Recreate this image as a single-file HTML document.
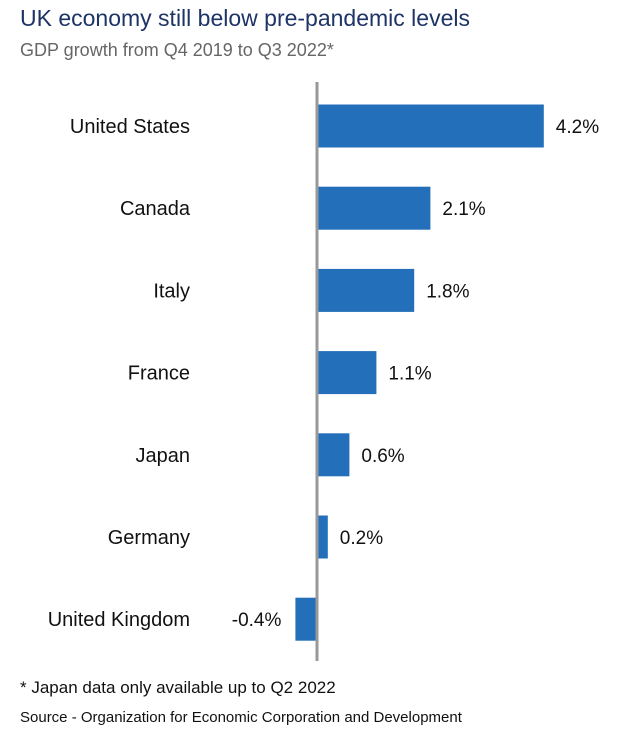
<!DOCTYPE html>
<html><head><meta charset="utf-8"><style>
body{margin:0;width:627px;height:755px;background:#fff;font-family:"Liberation Sans",sans-serif;position:relative;overflow:hidden}
.t{position:absolute;white-space:nowrap}
</style></head><body>
<div class="t" style="left:20px;top:5px;font-size:23px;color:#1e3466">UK economy still below pre-pandemic levels</div>
<div class="t" style="left:20px;top:40px;font-size:18px;color:#666">GDP growth from Q4 2019 to Q3 2022*</div>
<svg id="chart" width="627" height="680" style="position:absolute;left:0;top:0"></svg>
<div class="t" style="left:20px;top:678px;font-size:17px;color:#111">* Japan data only available up to Q2 2022</div>
<div class="t" style="left:20px;top:709px;font-size:15px;color:#111">Source - Organization for Economic Corporation and Development</div>
<script>
const categories=["United States","Canada","Italy","France","Japan","Germany","United Kingdom"];
const values=[4.2,2.1,1.8,1.1,0.6,0.2,-0.4];
const labels=["4.2%","2.1%","1.8%","1.1%","0.6%","0.2%","-0.4%"];
const svg=document.getElementById('chart');const NS='http://www.w3.org/2000/svg';
const x0=317,perUnit=54;const xs=v=>x0+v*perUnit;
const ys=i=>126+i*82.2;const bh=43;
function mk(t,a){const e=document.createElementNS(NS,t);for(const k in a)e.setAttribute(k,a[k]);svg.appendChild(e);return e;}
categories.forEach((c,i)=>{
 const v=values[i],y=ys(i);
 const r=mk('rect',{x:Math.min(xs(0),xs(v)),y:y-bh/2,width:Math.abs(xs(v)-xs(0)),height:bh,fill:'#236fba'});
 
 
 const tl=mk('text',{x:190,y:y+7,'text-anchor':'end','font-size':20,fill:'#111','font-family':'Liberation Sans, sans-serif'});
 tl.textContent=c;
 
 
 const neg=v<0;
 const vl=mk('text',{x:neg?xs(v)-14:xs(v)+12,y:y+7,'text-anchor':neg?'end':'start','font-size':19,fill:'#111','font-family':'Liberation Sans, sans-serif'});
 vl.textContent=labels[i];
 
 
});
const ax=mk('line',{x1:x0,x2:x0,y1:82,y2:661,stroke:'#999','stroke-width':3});


</script>
</body></html>
